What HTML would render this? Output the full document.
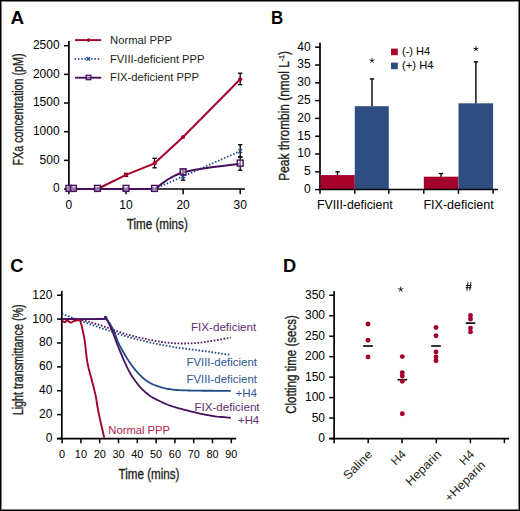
<!DOCTYPE html>
<html><head><meta charset="utf-8"><style>
html,body{margin:0;padding:0;background:#fff;}
svg{display:block;}
text{font-family:"Liberation Sans",sans-serif;}
</style></head><body>
<svg width="520" height="511" viewBox="0 0 520 511">
<rect x="0" y="0" width="520" height="511" fill="#fff"/>
<text x="10.60" y="23.70" font-size="18" fill="#000" text-anchor="start" textLength="13.60" lengthAdjust="spacingAndGlyphs" font-weight="bold" >A</text>
<line x1="68.90" y1="41.00" x2="68.90" y2="189.80" stroke="#000" stroke-width="1.7" />
<line x1="64.00" y1="189.00" x2="68.90" y2="189.00" stroke="#000" stroke-width="1.5" />
<text x="59.60" y="192.20" font-size="12" fill="#000" text-anchor="end" >0</text>
<line x1="64.00" y1="160.34" x2="68.90" y2="160.34" stroke="#000" stroke-width="1.5" />
<text x="59.60" y="163.54" font-size="12" fill="#000" text-anchor="end" >500</text>
<line x1="64.00" y1="131.68" x2="68.90" y2="131.68" stroke="#000" stroke-width="1.5" />
<text x="59.60" y="134.88" font-size="12" fill="#000" text-anchor="end" >1000</text>
<line x1="64.00" y1="103.02" x2="68.90" y2="103.02" stroke="#000" stroke-width="1.5" />
<text x="59.60" y="106.22" font-size="12" fill="#000" text-anchor="end" >1500</text>
<line x1="64.00" y1="74.36" x2="68.90" y2="74.36" stroke="#000" stroke-width="1.5" />
<text x="59.60" y="77.56" font-size="12" fill="#000" text-anchor="end" >2000</text>
<line x1="64.00" y1="45.70" x2="68.90" y2="45.70" stroke="#000" stroke-width="1.5" />
<text x="59.60" y="48.90" font-size="12" fill="#000" text-anchor="end" >2500</text>
<line x1="68.10" y1="189.00" x2="244.80" y2="189.00" stroke="#000" stroke-width="1.7" />
<line x1="68.90" y1="189.00" x2="68.90" y2="194.20" stroke="#000" stroke-width="1.5" />
<text x="68.90" y="208.80" font-size="12" fill="#000" text-anchor="middle" >0</text>
<line x1="126.00" y1="189.00" x2="126.00" y2="194.20" stroke="#000" stroke-width="1.5" />
<text x="126.00" y="208.80" font-size="12" fill="#000" text-anchor="middle" >10</text>
<line x1="183.10" y1="189.00" x2="183.10" y2="194.20" stroke="#000" stroke-width="1.5" />
<text x="183.10" y="208.80" font-size="12" fill="#000" text-anchor="middle" >20</text>
<line x1="240.20" y1="189.00" x2="240.20" y2="194.20" stroke="#000" stroke-width="1.5" />
<text x="240.20" y="208.80" font-size="12" fill="#000" text-anchor="middle" >30</text>
<text x="157.30" y="229.30" font-size="14.3" fill="#231F20" text-anchor="middle" stroke="#231F20" stroke-width="0.35" textLength="61.00" lengthAdjust="spacingAndGlyphs" >Time (mins)</text>
<text x="0.00" y="0.00" font-size="14.1" fill="#231F20" text-anchor="middle" stroke="#231F20" stroke-width="0.35" textLength="112.00" lengthAdjust="spacingAndGlyphs" transform="translate(23.4,109.5) rotate(-90)" >FXa concentration (pM)</text>
<line x1="75.00" y1="40.10" x2="101.20" y2="40.10" stroke="#A5002A" stroke-width="1.9" />
<circle cx="88.4" cy="40.1" r="1.8" fill="#A5002A"/>
<line x1="74.60" y1="58.90" x2="101.20" y2="58.90" stroke="#1F4A88" stroke-width="1.8" stroke-dasharray="1.5,1.8"/>
<path d="M86.5,57.0L90.1,60.8M90.1,57.0L86.5,60.8" stroke="#1F4A88" stroke-width="1.3"/>
<line x1="75.00" y1="77.70" x2="101.20" y2="77.70" stroke="#46105F" stroke-width="1.9" />
<rect x="86.2" y="75.3" width="4.6" height="4.4" fill="#fff" fill-opacity="0.3" stroke="#46105F" stroke-width="1.3"/>
<text x="110.00" y="44.30" font-size="11.8" fill="#231F20" text-anchor="start" textLength="62.00" lengthAdjust="spacingAndGlyphs" >Normal PPP</text>
<text x="110.00" y="62.70" font-size="11.8" fill="#231F20" text-anchor="start" textLength="94.50" lengthAdjust="spacingAndGlyphs" >FVIII-deficient PPP</text>
<text x="110.00" y="81.30" font-size="11.8" fill="#231F20" text-anchor="start" textLength="89.00" lengthAdjust="spacingAndGlyphs" >FIX-deficient PPP</text>
<line x1="240.20" y1="73.23" x2="240.20" y2="84.63" stroke="#000" stroke-width="1.3" />
<line x1="238.00" y1="73.23" x2="242.40" y2="73.23" stroke="#000" stroke-width="1.3" />
<line x1="238.00" y1="84.63" x2="242.40" y2="84.63" stroke="#000" stroke-width="1.3" />
<line x1="154.55" y1="158.32" x2="154.55" y2="167.82" stroke="#000" stroke-width="1.3" />
<line x1="152.35" y1="158.32" x2="156.75" y2="158.32" stroke="#000" stroke-width="1.3" />
<line x1="152.35" y1="167.82" x2="156.75" y2="167.82" stroke="#000" stroke-width="1.3" />
<line x1="126.00" y1="173.40" x2="126.00" y2="176.40" stroke="#000" stroke-width="1.3" />
<line x1="123.80" y1="173.40" x2="128.20" y2="173.40" stroke="#000" stroke-width="1.3" />
<line x1="123.80" y1="176.40" x2="128.20" y2="176.40" stroke="#000" stroke-width="1.3" />
<line x1="240.20" y1="144.71" x2="240.20" y2="157.11" stroke="#000" stroke-width="1.3" />
<line x1="238.00" y1="144.71" x2="242.40" y2="144.71" stroke="#000" stroke-width="1.3" />
<line x1="238.00" y1="157.11" x2="242.40" y2="157.11" stroke="#000" stroke-width="1.3" />
<line x1="240.20" y1="156.92" x2="240.20" y2="170.22" stroke="#000" stroke-width="1.3" />
<line x1="238.00" y1="156.92" x2="242.40" y2="156.92" stroke="#000" stroke-width="1.3" />
<line x1="238.00" y1="170.22" x2="242.40" y2="170.22" stroke="#000" stroke-width="1.3" />
<line x1="183.10" y1="172.59" x2="183.10" y2="180.19" stroke="#000" stroke-width="1.3" />
<line x1="180.90" y1="172.59" x2="185.30" y2="172.59" stroke="#000" stroke-width="1.3" />
<line x1="180.90" y1="180.19" x2="185.30" y2="180.19" stroke="#000" stroke-width="1.3" />
<line x1="183.10" y1="169.88" x2="183.10" y2="174.88" stroke="#000" stroke-width="1.3" />
<line x1="180.90" y1="169.88" x2="185.30" y2="169.88" stroke="#000" stroke-width="1.3" />
<line x1="180.90" y1="174.88" x2="185.30" y2="174.88" stroke="#000" stroke-width="1.3" />
<polyline points="68.90,189.00 73.47,189.00 97.45,189.00 126.00,174.90 154.55,163.32 183.10,137.01 240.20,79.23" fill="none" stroke="#A5002A" stroke-width="2.0" stroke-linejoin="round"/>
<circle cx="68.90" cy="189.00" r="2.1" fill="#A5002A"/>
<circle cx="73.47" cy="189.00" r="2.1" fill="#A5002A"/>
<circle cx="97.45" cy="189.00" r="2.1" fill="#A5002A"/>
<circle cx="126.00" cy="174.90" r="2.1" fill="#A5002A"/>
<circle cx="154.55" cy="163.32" r="2.1" fill="#A5002A"/>
<circle cx="183.10" cy="137.01" r="2.1" fill="#A5002A"/>
<circle cx="240.20" cy="79.23" r="2.1" fill="#A5002A"/>
<polyline points="68.90,189.00 73.47,189.00 97.45,189.00 126.00,189.00 154.55,189.00 183.10,176.39 240.20,151.11" fill="none" stroke="#1F4A88" stroke-width="1.8" stroke-linejoin="round" stroke-dasharray="1.5,1.8"/>
<path d="M66.90,187.00L70.90,191.00M70.90,187.00L66.90,191.00" stroke="#1F4A88" stroke-width="1.2"/>
<path d="M71.47,187.00L75.47,191.00M75.47,187.00L71.47,191.00" stroke="#1F4A88" stroke-width="1.2"/>
<path d="M95.45,187.00L99.45,191.00M99.45,187.00L95.45,191.00" stroke="#1F4A88" stroke-width="1.2"/>
<path d="M124.00,187.00L128.00,191.00M128.00,187.00L124.00,191.00" stroke="#1F4A88" stroke-width="1.2"/>
<path d="M152.55,187.00L156.55,191.00M156.55,187.00L152.55,191.00" stroke="#1F4A88" stroke-width="1.2"/>
<path d="M181.10,174.39L185.10,178.39M185.10,174.39L181.10,178.39" stroke="#1F4A88" stroke-width="1.2"/>
<path d="M238.20,149.11L242.20,153.11M242.20,149.11L238.20,153.11" stroke="#1F4A88" stroke-width="1.2"/>
<polyline points="68.90,189.00 73.47,189.00 97.45,189.00 126.00,189.00 154.55,189.00 156.12,187.98 157.98,186.61 160.12,184.98 162.54,183.17 165.26,181.23 168.25,179.25 171.54,177.30 175.11,175.46 178.96,173.79 183.10,172.38 187.91,171.15 193.61,170.00 199.93,168.92 206.63,167.93 213.43,167.01 220.10,166.18 226.37,165.43 231.98,164.77 236.67,164.20 240.20,163.72" fill="none" stroke="#46105F" stroke-width="2.0" stroke-linejoin="round"/>
<rect x="66.00" y="185.40" width="5.8" height="6.0" fill="#fff" fill-opacity="0.45" stroke="#46105F" stroke-width="1.4"/>
<rect x="70.57" y="185.40" width="5.8" height="6.0" fill="#fff" fill-opacity="0.45" stroke="#46105F" stroke-width="1.4"/>
<rect x="94.55" y="185.40" width="5.8" height="6.0" fill="#fff" fill-opacity="0.45" stroke="#46105F" stroke-width="1.4"/>
<rect x="123.10" y="185.40" width="5.8" height="6.0" fill="#fff" fill-opacity="0.45" stroke="#46105F" stroke-width="1.4"/>
<rect x="151.65" y="185.40" width="5.8" height="6.0" fill="#fff" fill-opacity="0.45" stroke="#46105F" stroke-width="1.4"/>
<rect x="180.20" y="168.78" width="5.8" height="6.0" fill="#fff" fill-opacity="0.45" stroke="#46105F" stroke-width="1.4"/>
<rect x="237.30" y="160.12" width="5.8" height="6.0" fill="#fff" fill-opacity="0.45" stroke="#46105F" stroke-width="1.4"/>
<text x="271.00" y="23.90" font-size="18" fill="#000" text-anchor="start" textLength="12.20" lengthAdjust="spacingAndGlyphs" font-weight="bold" >B</text>
<line x1="320.00" y1="42.80" x2="320.00" y2="190.20" stroke="#000" stroke-width="1.7" />
<line x1="315.10" y1="189.60" x2="320.00" y2="189.60" stroke="#000" stroke-width="1.5" />
<text x="310.60" y="193.00" font-size="12" fill="#000" text-anchor="end" >0</text>
<line x1="315.10" y1="171.80" x2="320.00" y2="171.80" stroke="#000" stroke-width="1.5" />
<text x="310.60" y="175.20" font-size="12" fill="#000" text-anchor="end" >5</text>
<line x1="315.10" y1="154.00" x2="320.00" y2="154.00" stroke="#000" stroke-width="1.5" />
<text x="310.60" y="157.40" font-size="12" fill="#000" text-anchor="end" >10</text>
<line x1="315.10" y1="136.20" x2="320.00" y2="136.20" stroke="#000" stroke-width="1.5" />
<text x="310.60" y="139.60" font-size="12" fill="#000" text-anchor="end" >15</text>
<line x1="315.10" y1="118.40" x2="320.00" y2="118.40" stroke="#000" stroke-width="1.5" />
<text x="310.60" y="121.80" font-size="12" fill="#000" text-anchor="end" >20</text>
<line x1="315.10" y1="100.60" x2="320.00" y2="100.60" stroke="#000" stroke-width="1.5" />
<text x="310.60" y="104.00" font-size="12" fill="#000" text-anchor="end" >25</text>
<line x1="315.10" y1="82.80" x2="320.00" y2="82.80" stroke="#000" stroke-width="1.5" />
<text x="310.60" y="86.20" font-size="12" fill="#000" text-anchor="end" >30</text>
<line x1="315.10" y1="65.00" x2="320.00" y2="65.00" stroke="#000" stroke-width="1.5" />
<text x="310.60" y="68.40" font-size="12" fill="#000" text-anchor="end" >35</text>
<line x1="315.10" y1="47.20" x2="320.00" y2="47.20" stroke="#000" stroke-width="1.5" />
<text x="310.60" y="50.60" font-size="12" fill="#000" text-anchor="end" >40</text>
<rect x="320.6" y="175.1" width="34.2" height="14.50" fill="#A5002A"/>
<rect x="354.8" y="106.2" width="34.0" height="83.40" fill="#2E4D80"/>
<rect x="423.8" y="176.7" width="34.7" height="12.90" fill="#A5002A"/>
<rect x="458.5" y="103.3" width="34.6" height="86.30" fill="#2E4D80"/>
<line x1="337.50" y1="171.20" x2="337.50" y2="175.10" stroke="#000" stroke-width="1.4" />
<line x1="335.30" y1="171.80" x2="339.70" y2="171.80" stroke="#000" stroke-width="1.3" />
<line x1="372.00" y1="78.40" x2="372.00" y2="106.20" stroke="#000" stroke-width="1.4" />
<line x1="369.80" y1="79.00" x2="374.20" y2="79.00" stroke="#000" stroke-width="1.3" />
<line x1="441.00" y1="172.90" x2="441.00" y2="176.70" stroke="#000" stroke-width="1.4" />
<line x1="438.80" y1="173.50" x2="443.20" y2="173.50" stroke="#000" stroke-width="1.3" />
<line x1="475.90" y1="61.30" x2="475.90" y2="103.30" stroke="#000" stroke-width="1.4" />
<line x1="473.70" y1="61.90" x2="478.10" y2="61.90" stroke="#000" stroke-width="1.3" />
<path d="M372.00,60.60L372.00,58.20M372.00,60.60L374.28,59.86M372.00,60.60L373.41,62.54M372.00,60.60L370.59,62.54M372.00,60.60L369.72,59.86" stroke="#000" stroke-width="0.8" stroke-linecap="round" fill="none"/>
<path d="M475.90,48.90L475.90,46.50M475.90,48.90L478.18,48.16M475.90,48.90L477.31,50.84M475.90,48.90L474.49,50.84M475.90,48.90L473.62,48.16" stroke="#000" stroke-width="0.8" stroke-linecap="round" fill="none"/>
<line x1="319.20" y1="189.50" x2="498.00" y2="189.50" stroke="#000" stroke-width="1.5" />
<line x1="320.00" y1="189.50" x2="320.00" y2="193.80" stroke="#000" stroke-width="1.5" />
<line x1="354.80" y1="189.50" x2="354.80" y2="193.80" stroke="#000" stroke-width="1.5" />
<line x1="388.80" y1="189.50" x2="388.80" y2="193.80" stroke="#000" stroke-width="1.5" />
<line x1="423.80" y1="189.50" x2="423.80" y2="193.80" stroke="#000" stroke-width="1.5" />
<line x1="458.50" y1="189.50" x2="458.50" y2="193.80" stroke="#000" stroke-width="1.5" />
<line x1="493.10" y1="189.50" x2="493.10" y2="193.80" stroke="#000" stroke-width="1.5" />
<text x="317.00" y="208.80" font-size="12" fill="#000" text-anchor="start" textLength="75.60" lengthAdjust="spacingAndGlyphs" >FVIII-deficient</text>
<text x="423.40" y="208.80" font-size="12" fill="#000" text-anchor="start" textLength="70.40" lengthAdjust="spacingAndGlyphs" >FIX-deficient</text>
<rect x="391.0" y="48.6" width="6.8" height="6.6" fill="#A5002A"/>
<rect x="391.0" y="62.6" width="6.8" height="6.6" fill="#2E4D80"/>
<text x="402.00" y="54.90" font-size="10.8" fill="#000" text-anchor="start" textLength="28.20" lengthAdjust="spacingAndGlyphs" >(-) H4</text>
<text x="402.00" y="68.90" font-size="10.8" fill="#000" text-anchor="start" textLength="31.50" lengthAdjust="spacingAndGlyphs" >(+) H4</text>
<text x="0.00" y="0.00" font-size="14.1" fill="#231F20" text-anchor="middle" stroke="#231F20" stroke-width="0.35" textLength="129.60" lengthAdjust="spacingAndGlyphs" transform="translate(288.6,115.9) rotate(-90)" >Peak thrombin (nmol L<tspan dy="-4.5" font-size="8">-1</tspan><tspan dy="4.5">)</tspan></text>
<text x="10.20" y="271.90" font-size="18" fill="#000" text-anchor="start" textLength="13.20" lengthAdjust="spacingAndGlyphs" font-weight="bold" >C</text>
<line x1="61.80" y1="290.90" x2="61.80" y2="439.40" stroke="#000" stroke-width="1.7" />
<line x1="57.00" y1="438.50" x2="61.80" y2="438.50" stroke="#000" stroke-width="1.5" />
<text x="52.40" y="441.90" font-size="12" fill="#000" text-anchor="end" >0</text>
<line x1="57.00" y1="414.62" x2="61.80" y2="414.62" stroke="#000" stroke-width="1.5" />
<text x="52.40" y="418.02" font-size="12" fill="#000" text-anchor="end" >20</text>
<line x1="57.00" y1="390.74" x2="61.80" y2="390.74" stroke="#000" stroke-width="1.5" />
<text x="52.40" y="394.14" font-size="12" fill="#000" text-anchor="end" >40</text>
<line x1="57.00" y1="366.86" x2="61.80" y2="366.86" stroke="#000" stroke-width="1.5" />
<text x="52.40" y="370.26" font-size="12" fill="#000" text-anchor="end" >60</text>
<line x1="57.00" y1="342.98" x2="61.80" y2="342.98" stroke="#000" stroke-width="1.5" />
<text x="52.40" y="346.38" font-size="12" fill="#000" text-anchor="end" >80</text>
<line x1="57.00" y1="319.10" x2="61.80" y2="319.10" stroke="#000" stroke-width="1.5" />
<text x="52.40" y="322.50" font-size="12" fill="#000" text-anchor="end" >100</text>
<line x1="57.00" y1="295.22" x2="61.80" y2="295.22" stroke="#000" stroke-width="1.5" />
<text x="52.40" y="298.62" font-size="12" fill="#000" text-anchor="end" >120</text>
<line x1="57.00" y1="438.60" x2="236.20" y2="438.60" stroke="#000" stroke-width="1.7" />
<line x1="62.10" y1="438.60" x2="62.10" y2="443.20" stroke="#000" stroke-width="1.5" />
<text x="62.10" y="457.90" font-size="10.9" fill="#000" text-anchor="middle" >0</text>
<line x1="80.90" y1="438.60" x2="80.90" y2="443.20" stroke="#000" stroke-width="1.5" />
<text x="80.90" y="457.90" font-size="10.9" fill="#000" text-anchor="middle" >10</text>
<line x1="99.70" y1="438.60" x2="99.70" y2="443.20" stroke="#000" stroke-width="1.5" />
<text x="99.70" y="457.90" font-size="10.9" fill="#000" text-anchor="middle" >20</text>
<line x1="118.50" y1="438.60" x2="118.50" y2="443.20" stroke="#000" stroke-width="1.5" />
<text x="118.50" y="457.90" font-size="10.9" fill="#000" text-anchor="middle" >30</text>
<line x1="137.30" y1="438.60" x2="137.30" y2="443.20" stroke="#000" stroke-width="1.5" />
<text x="137.30" y="457.90" font-size="10.9" fill="#000" text-anchor="middle" >40</text>
<line x1="156.10" y1="438.60" x2="156.10" y2="443.20" stroke="#000" stroke-width="1.5" />
<text x="156.10" y="457.90" font-size="10.9" fill="#000" text-anchor="middle" >50</text>
<line x1="174.90" y1="438.60" x2="174.90" y2="443.20" stroke="#000" stroke-width="1.5" />
<text x="174.90" y="457.90" font-size="10.9" fill="#000" text-anchor="middle" >60</text>
<line x1="193.70" y1="438.60" x2="193.70" y2="443.20" stroke="#000" stroke-width="1.5" />
<text x="193.70" y="457.90" font-size="10.9" fill="#000" text-anchor="middle" >70</text>
<line x1="212.50" y1="438.60" x2="212.50" y2="443.20" stroke="#000" stroke-width="1.5" />
<text x="212.50" y="457.90" font-size="10.9" fill="#000" text-anchor="middle" >80</text>
<line x1="231.30" y1="438.60" x2="231.30" y2="443.20" stroke="#000" stroke-width="1.5" />
<text x="231.30" y="457.90" font-size="10.9" fill="#000" text-anchor="middle" >90</text>
<text x="149.00" y="479.00" font-size="14.3" fill="#231F20" text-anchor="middle" stroke="#231F20" stroke-width="0.35" textLength="61.00" lengthAdjust="spacingAndGlyphs" >Time (mins)</text>
<text x="0.00" y="0.00" font-size="14.1" fill="#231F20" text-anchor="middle" stroke="#231F20" stroke-width="0.35" textLength="111.00" lengthAdjust="spacingAndGlyphs" transform="translate(23.4,359.8) rotate(-90)" >Light transmittance (%)</text>
<polyline points="62.10,319.00 63.47,319.01 65.27,318.99 67.41,318.96 69.80,318.95 72.35,318.98 74.96,319.08 77.54,319.28 80.00,319.60 82.35,320.04 84.69,320.56 87.04,321.18 89.44,321.86 91.90,322.62 94.47,323.43 97.16,324.29 100.00,325.20 103.03,326.20 106.24,327.32 109.58,328.52 113.02,329.76 116.51,331.01 120.01,332.23 123.49,333.37 126.90,334.40 130.30,335.34 133.75,336.24 137.22,337.10 140.68,337.91 144.10,338.66 147.45,339.37 150.69,340.01 153.80,340.60 156.74,341.13 159.51,341.60 162.17,342.01 164.77,342.38 167.34,342.68 169.94,342.94 172.61,343.14 175.40,343.30 178.25,343.41 181.10,343.49 183.98,343.51 186.90,343.49 189.90,343.40 193.00,343.24 196.22,343.01 199.60,342.70 203.38,342.24 207.64,341.62 212.16,340.89 216.71,340.11 221.08,339.34 225.03,338.62 228.35,338.02 230.80,337.60" fill="none" stroke="#46105F" stroke-width="1.8" stroke-linejoin="round" stroke-dasharray="1.6,1.7"/>
<polyline points="61.80,313.80 63.87,314.57 66.55,315.58 69.73,316.78 73.31,318.12 77.18,319.56 81.24,321.05 85.38,322.55 89.50,324.00 93.78,325.49 98.41,327.10 103.28,328.77 108.25,330.46 113.22,332.13 118.06,333.72 122.66,335.19 126.90,336.50 130.80,337.64 134.49,338.67 137.99,339.59 141.34,340.43 144.56,341.21 147.69,341.93 150.76,342.62 153.80,343.30 156.74,343.94 159.51,344.52 162.17,345.04 164.77,345.52 167.34,345.98 169.94,346.42 172.61,346.86 175.40,347.30 178.25,347.73 181.10,348.13 183.98,348.51 186.90,348.88 189.90,349.25 193.00,349.63 196.22,350.05 199.60,350.50 203.38,351.02 207.64,351.62 212.16,352.26 216.71,352.90 221.08,353.52 225.03,354.08 228.35,354.55 230.80,354.90" fill="none" stroke="#1F4A88" stroke-width="1.8" stroke-linejoin="round" stroke-dasharray="1.6,1.7"/>
<polyline points="62.10,319.00 65.52,319.01 70.35,319.03 76.14,319.06 82.41,319.09 88.69,319.10 94.53,319.10 99.45,319.07 103.00,319.00 105.10,318.81 106.17,318.46 106.47,318.03 106.24,317.61 105.76,317.27 105.27,317.10 105.03,317.19 105.30,317.60 105.98,318.35 106.80,319.37 107.72,320.61 108.71,322.03 109.74,323.59 110.77,325.25 111.76,326.96 112.70,328.70 113.57,330.51 114.39,332.46 115.20,334.52 116.00,336.65 116.82,338.83 117.68,341.01 118.60,343.18 119.60,345.30 120.69,347.41 121.85,349.57 123.07,351.75 124.32,353.93 125.60,356.06 126.89,358.14 128.16,360.13 129.40,362.00 130.62,363.77 131.83,365.46 133.04,367.08 134.25,368.64 135.46,370.12 136.67,371.54 137.88,372.90 139.10,374.20 140.32,375.44 141.54,376.60 142.77,377.71 143.99,378.75 145.22,379.73 146.45,380.65 147.67,381.50 148.90,382.30 150.12,383.02 151.35,383.66 152.58,384.24 153.80,384.75 155.03,385.22 156.25,385.66 157.47,386.08 158.70,386.50 159.91,386.90 161.11,387.27 162.30,387.62 163.49,387.94 164.70,388.23 165.93,388.51 167.19,388.76 168.50,389.00 169.80,389.22 171.06,389.41 172.31,389.58 173.61,389.73 174.99,389.86 176.49,389.98 178.14,390.09 180.00,390.20 182.02,390.30 184.15,390.38 186.40,390.46 188.79,390.52 191.34,390.57 194.04,390.62 196.93,390.66 200.00,390.70 203.54,390.73 207.66,390.76 212.11,390.77 216.65,390.78 221.03,390.79 225.01,390.79 228.35,390.80 230.80,390.80" fill="none" stroke="#1F4A88" stroke-width="1.8" stroke-linejoin="round"/>
<polyline points="62.10,319.00 65.50,319.00 70.31,319.02 76.06,319.04 82.29,319.05 88.55,319.05 94.36,319.03 99.26,318.98 102.80,318.90 104.91,318.68 106.02,318.28 106.36,317.79 106.19,317.32 105.76,316.94 105.30,316.75 105.06,316.84 105.30,317.30 105.90,318.12 106.59,319.23 107.35,320.57 108.16,322.12 109.02,323.84 109.90,325.70 110.80,327.67 111.70,329.70 112.60,331.87 113.52,334.23 114.47,336.75 115.44,339.37 116.43,342.08 117.46,344.81 118.51,347.53 119.60,350.20 120.73,352.90 121.92,355.70 123.14,358.55 124.39,361.41 125.65,364.21 126.91,366.91 128.17,369.46 129.40,371.80 130.62,373.95 131.83,375.95 133.04,377.82 134.25,379.58 135.46,381.24 136.67,382.82 137.88,384.33 139.10,385.80 140.32,387.20 141.54,388.52 142.77,389.76 143.99,390.93 145.22,392.02 146.45,393.07 147.67,394.06 148.90,395.00 150.12,395.88 151.35,396.68 152.58,397.42 153.80,398.10 155.03,398.75 156.25,399.37 157.47,399.98 158.70,400.60 159.91,401.21 161.11,401.80 162.30,402.37 163.49,402.93 164.70,403.46 165.93,403.98 167.19,404.50 168.50,405.00 169.80,405.48 171.06,405.92 172.31,406.35 173.61,406.76 174.99,407.18 176.49,407.62 178.14,408.09 180.00,408.60 182.13,409.17 184.52,409.81 187.10,410.47 189.78,411.16 192.49,411.83 195.15,412.48 197.68,413.08 200.00,413.60 202.11,414.06 204.08,414.46 205.96,414.83 207.76,415.17 209.54,415.48 211.31,415.76 213.12,416.04 215.00,416.30 217.04,416.56 219.26,416.79 221.56,417.02 223.84,417.22 226.00,417.40 227.94,417.56 229.58,417.69 230.80,417.80" fill="none" stroke="#46105F" stroke-width="1.8" stroke-linejoin="round"/>
<polyline points="62.10,320.40 62.40,320.65 62.81,321.03 63.30,321.47 63.82,321.88 64.34,322.18 64.80,322.30 65.21,322.16 65.59,321.80 65.96,321.33 66.34,320.87 66.75,320.52 67.20,320.40 67.70,320.57 68.24,320.97 68.81,321.49 69.40,322.00 70.00,322.41 70.60,322.60 71.19,322.53 71.78,322.28 72.38,321.92 73.01,321.52 73.68,321.16 74.40,320.90 75.24,320.71 76.20,320.51 77.21,320.35 78.17,320.26 79.03,320.26 79.70,320.40 80.14,320.67 80.42,321.04 80.58,321.51 80.69,322.08 80.81,322.74 81.00,323.50 81.24,324.34 81.49,325.26 81.75,326.28 82.02,327.40 82.30,328.64 82.60,330.00 82.91,331.40 83.24,332.81 83.58,334.34 83.94,336.08 84.31,338.13 84.70,340.60 85.10,343.66 85.50,347.26 85.92,351.18 86.37,355.18 86.86,359.03 87.40,362.50 88.00,365.56 88.66,368.40 89.36,371.09 90.08,373.71 90.80,376.32 91.50,379.00 92.20,381.74 92.91,384.47 93.63,387.21 94.33,389.94 94.99,392.67 95.60,395.40 96.11,398.02 96.52,400.52 96.89,403.01 97.29,405.64 97.77,408.52 98.40,411.80 99.26,415.85 100.33,420.66 101.48,425.73 102.59,430.56 103.53,434.68 104.20,437.60" fill="none" stroke="#A5002A" stroke-width="1.9" stroke-linejoin="round"/>
<text x="256.20" y="330.90" font-size="11.8" fill="#5E2D72" text-anchor="end" textLength="65.20" lengthAdjust="spacingAndGlyphs" >FIX-deficient</text>
<text x="257.00" y="366.00" font-size="11.8" fill="#2F5592" text-anchor="end" textLength="70.60" lengthAdjust="spacingAndGlyphs" >FVIII-deficient</text>
<text x="257.00" y="383.30" font-size="11.8" fill="#2F5592" text-anchor="end" textLength="70.60" lengthAdjust="spacingAndGlyphs" >FVIII-deficient</text>
<text x="257.00" y="396.60" font-size="11.8" fill="#2F5592" text-anchor="end" textLength="21.60" lengthAdjust="spacingAndGlyphs" >+H4</text>
<text x="259.60" y="410.50" font-size="11.8" fill="#5E2D72" text-anchor="end" textLength="65.20" lengthAdjust="spacingAndGlyphs" >FIX-deficient</text>
<text x="259.20" y="423.70" font-size="11.8" fill="#5E2D72" text-anchor="end" textLength="21.20" lengthAdjust="spacingAndGlyphs" >+H4</text>
<text x="108.30" y="433.50" font-size="11.4" fill="#B01C48" text-anchor="start" textLength="61.80" lengthAdjust="spacingAndGlyphs" >Normal PPP</text>
<text x="283.00" y="271.90" font-size="18" fill="#000" text-anchor="start" textLength="13.20" lengthAdjust="spacingAndGlyphs" font-weight="bold" >D</text>
<line x1="334.10" y1="290.90" x2="334.10" y2="439.40" stroke="#000" stroke-width="1.7" />
<line x1="329.20" y1="438.50" x2="334.10" y2="438.50" stroke="#000" stroke-width="1.5" />
<text x="325.00" y="442.10" font-size="12" fill="#000" text-anchor="end" >0</text>
<line x1="329.20" y1="418.04" x2="334.10" y2="418.04" stroke="#000" stroke-width="1.5" />
<text x="325.00" y="421.64" font-size="12" fill="#000" text-anchor="end" >50</text>
<line x1="329.20" y1="397.58" x2="334.10" y2="397.58" stroke="#000" stroke-width="1.5" />
<text x="325.00" y="401.18" font-size="12" fill="#000" text-anchor="end" >100</text>
<line x1="329.20" y1="377.12" x2="334.10" y2="377.12" stroke="#000" stroke-width="1.5" />
<text x="325.00" y="380.72" font-size="12" fill="#000" text-anchor="end" >150</text>
<line x1="329.20" y1="356.66" x2="334.10" y2="356.66" stroke="#000" stroke-width="1.5" />
<text x="325.00" y="360.26" font-size="12" fill="#000" text-anchor="end" >200</text>
<line x1="329.20" y1="336.20" x2="334.10" y2="336.20" stroke="#000" stroke-width="1.5" />
<text x="325.00" y="339.80" font-size="12" fill="#000" text-anchor="end" >250</text>
<line x1="329.20" y1="315.74" x2="334.10" y2="315.74" stroke="#000" stroke-width="1.5" />
<text x="325.00" y="319.34" font-size="12" fill="#000" text-anchor="end" >300</text>
<line x1="329.20" y1="295.28" x2="334.10" y2="295.28" stroke="#000" stroke-width="1.5" />
<text x="325.00" y="298.88" font-size="12" fill="#000" text-anchor="end" >350</text>
<line x1="329.20" y1="438.60" x2="509.00" y2="438.60" stroke="#000" stroke-width="1.7" />
<line x1="334.10" y1="438.60" x2="334.10" y2="443.20" stroke="#000" stroke-width="1.5" />
<line x1="368.20" y1="438.60" x2="368.20" y2="443.20" stroke="#000" stroke-width="1.5" />
<line x1="402.00" y1="438.60" x2="402.00" y2="443.20" stroke="#000" stroke-width="1.5" />
<line x1="436.30" y1="438.60" x2="436.30" y2="443.20" stroke="#000" stroke-width="1.5" />
<line x1="470.40" y1="438.60" x2="470.40" y2="443.20" stroke="#000" stroke-width="1.5" />
<line x1="504.40" y1="438.60" x2="504.40" y2="443.20" stroke="#000" stroke-width="1.5" />
<text x="0.00" y="0.00" font-size="14.1" fill="#231F20" text-anchor="middle" stroke="#231F20" stroke-width="0.35" textLength="98.50" lengthAdjust="spacingAndGlyphs" transform="translate(296.0,364.5) rotate(-90)" >Clotting time (secs)</text>
<line x1="363.20" y1="346.00" x2="372.80" y2="346.00" stroke="#000" stroke-width="1.6" />
<circle cx="368.00" cy="324.00" r="2.45" fill="#A5002A"/>
<circle cx="368.00" cy="340.20" r="2.45" fill="#A5002A"/>
<circle cx="368.00" cy="356.90" r="2.45" fill="#A5002A"/>
<line x1="397.50" y1="379.70" x2="407.10" y2="379.70" stroke="#000" stroke-width="1.6" />
<circle cx="402.30" cy="356.60" r="2.45" fill="#A5002A"/>
<circle cx="402.30" cy="372.60" r="2.45" fill="#A5002A"/>
<circle cx="402.30" cy="376.00" r="2.45" fill="#A5002A"/>
<circle cx="402.30" cy="381.20" r="2.45" fill="#A5002A"/>
<circle cx="402.30" cy="413.70" r="2.45" fill="#A5002A"/>
<line x1="431.20" y1="346.00" x2="440.80" y2="346.00" stroke="#000" stroke-width="1.6" />
<circle cx="436.00" cy="327.50" r="2.45" fill="#A5002A"/>
<circle cx="436.00" cy="335.80" r="2.45" fill="#A5002A"/>
<circle cx="436.00" cy="351.90" r="2.45" fill="#A5002A"/>
<circle cx="436.00" cy="356.90" r="2.45" fill="#A5002A"/>
<circle cx="436.00" cy="360.70" r="2.45" fill="#A5002A"/>
<line x1="465.70" y1="323.10" x2="475.30" y2="323.10" stroke="#000" stroke-width="1.6" />
<circle cx="470.50" cy="315.40" r="2.45" fill="#A5002A"/>
<circle cx="470.50" cy="319.00" r="2.45" fill="#A5002A"/>
<circle cx="470.50" cy="328.10" r="2.45" fill="#A5002A"/>
<circle cx="470.50" cy="331.90" r="2.45" fill="#A5002A"/>
<path d="M400.70,289.40L400.70,287.00M400.70,289.40L402.98,288.66M400.70,289.40L402.11,291.34M400.70,289.40L399.29,291.34M400.70,289.40L398.42,288.66" stroke="#000" stroke-width="0.8" stroke-linecap="round" fill="none"/>
<path d="M468.0,282.2L466.8,290.6M470.9,282.2L469.7,290.6M465.9,285.5L471.7,285.5M465.6,287.7L471.4,287.7" stroke="#000" stroke-width="0.9" fill="none"/>
<text x="0.00" y="0.00" font-size="12" fill="#231F20" text-anchor="end" textLength="35.50" lengthAdjust="spacingAndGlyphs" transform="translate(373.00,455.10) rotate(-45)" >Saline</text>
<text x="0.00" y="0.00" font-size="12" fill="#231F20" text-anchor="end" textLength="15.50" lengthAdjust="spacingAndGlyphs" transform="translate(406.80,455.10) rotate(-45)" >H4</text>
<text x="0.00" y="0.00" font-size="12" fill="#231F20" text-anchor="end" textLength="44.50" lengthAdjust="spacingAndGlyphs" transform="translate(441.90,455.10) rotate(-45)" >Heparin</text>
<text x="0.00" y="0.00" font-size="12" fill="#231F20" text-anchor="end" textLength="15.50" lengthAdjust="spacingAndGlyphs" transform="translate(475.10,455.10) rotate(-45)" >H4</text>
<text x="0.00" y="0.00" font-size="12" fill="#231F20" text-anchor="end" textLength="51.80" lengthAdjust="spacingAndGlyphs" transform="translate(486.10,465.80) rotate(-45)" >+Heparin</text>
<rect x="0.5" y="0.5" width="519" height="510" fill="none" stroke="#000" stroke-width="1"/>
<rect x="1.5" y="1.5" width="517" height="508" fill="none" stroke="#000" stroke-opacity="0.5" stroke-width="1"/>
</svg>
</body></html>
